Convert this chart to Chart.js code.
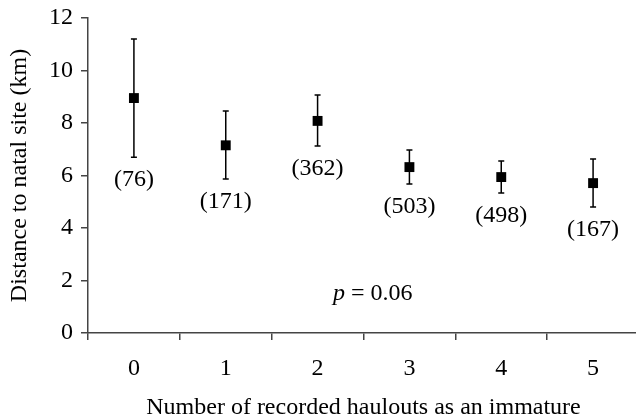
<!DOCTYPE html>
<html>
<head>
<meta charset="utf-8">
<script src="https://cdn.jsdelivr.net/npm/chart.js@4"></script>
<style>
  html, body { margin: 0; padding: 0; overflow: hidden; background: #fff; }
  #wrap { width: 646px; height: 419px; }
</style>
</head>
<body>
<div id="wrap"><canvas id="distChart" width="646" height="419"></canvas></div>
<script>
const categories = ['0', '1', '2', '3', '4', '5'];
const means = [8.95, 7.15, 8.08, 6.32, 5.94, 5.71];
const upper = [11.2, 8.46, 9.07, 6.97, 6.55, 6.63];
const lower = [6.7, 5.87, 7.12, 5.68, 5.33, 4.8];
const sampleSizes = ['(76)', '(171)', '(362)', '(503)', '(498)', '(167)'];
const yTicks = [0, 2, 4, 6, 8, 10, 12];

const serif = "'Liberation Serif', 'Times New Roman', serif";
const fs = 24;

// whiskers + sample sizes + p value
const errorBars = {
  id: 'errorBars',
  afterDatasetsDraw(chart) {
    const { ctx, scales: { x, y } } = chart;
    ctx.save();
    ctx.strokeStyle = '#000';
    ctx.lineWidth = 1.5;
    means.forEach((m, i) => {
      const px = x.getPixelForValue(i);
      const yt = y.getPixelForValue(upper[i]);
      const yb = y.getPixelForValue(lower[i]);
      ctx.beginPath();
      ctx.moveTo(px, yt); ctx.lineTo(px, yb);
      ctx.moveTo(px - 3, yt); ctx.lineTo(px + 3, yt);
      ctx.moveTo(px - 3, yb); ctx.lineTo(px + 3, yb);
      ctx.stroke();
    });
    ctx.fillStyle = '#000';
    ctx.font = fs + 'px ' + serif;
    ctx.textAlign = 'center';
    ctx.textBaseline = 'middle';
    sampleSizes.forEach((s, i) => {
      ctx.fillText(s, x.getPixelForValue(i), y.getPixelForValue(lower[i]) + 23);
    });
    // p = 0.06
    const cx = x.getPixelForValue(2.6);
    const cy = y.getPixelForValue(1.5);
    ctx.textAlign = 'left';
    ctx.font = 'italic ' + fs + 'px ' + serif;
    const pw = ctx.measureText('p').width;
    ctx.font = fs + 'px ' + serif;
    const rest = ' = 0.06';
    const rw = ctx.measureText(rest).width;
    const sx = cx - (pw + rw) / 2;
    ctx.font = 'italic ' + fs + 'px ' + serif;
    ctx.fillText('p', sx, cy);
    ctx.font = fs + 'px ' + serif;
    ctx.fillText(rest, sx + pw, cy);
    ctx.restore();
  }
};

new Chart(document.getElementById('distChart'), {
  type: 'line',
  data: {
    labels: categories,
    datasets: [{
      data: means,
      showLine: false,
      pointStyle: 'rect',
      pointRadius: 7,
      pointHoverRadius: 7,
      backgroundColor: '#000',
      borderColor: '#000',
      borderWidth: 0
    }]
  },
  options: {
    responsive: false,
    animation: false,
    events: [],
    layout: { padding: { top: 18, right: 0, left: 0, bottom: 0 } },
    plugins: { legend: { display: false }, tooltip: { enabled: false } },
    scales: {
      x: {
        type: 'category',
        offset: true,
        border: { color: '#444', width: 1.5 },
        grid: { display: true, offset: true, drawOnChartArea: false, tickLength: 7, color: '#444', lineWidth: 1.5 },
        ticks: { color: '#000', font: { family: serif, size: fs }, padding: 14, maxRotation: 0 },
        title: {
          display: true,
          text: 'Number of recorded haulouts as an immature',
          color: '#000',
          font: { family: serif, size: fs },
          padding: { top: 0, bottom: -3 }
        },
        afterFit(scale) { scale.height = 86; scale.paddingLeft = 0; scale.paddingRight = 0; }
      },
      y: {
        min: 0,
        max: 12,
        border: { color: '#444', width: 1.5 },
        grid: { display: true, drawOnChartArea: false, tickLength: 7, color: '#444', lineWidth: 1.5 },
        afterBuildTicks(scale) { scale.ticks = yTicks.map(v => ({ value: v })); },
        ticks: { color: '#000', font: { family: serif, size: fs }, padding: 8 },
        title: {
          display: true,
          text: 'Distance to natal site (km)',
          color: '#000',
          font: { family: serif, size: fs },
          padding: { top: 5, bottom: 0 }
        },
        afterFit(scale) { scale.width = 88; scale.paddingTop = 0; scale.paddingBottom = 0; }
      }
    }
  },
  plugins: [errorBars]
});
</script>
</body>
</html>
